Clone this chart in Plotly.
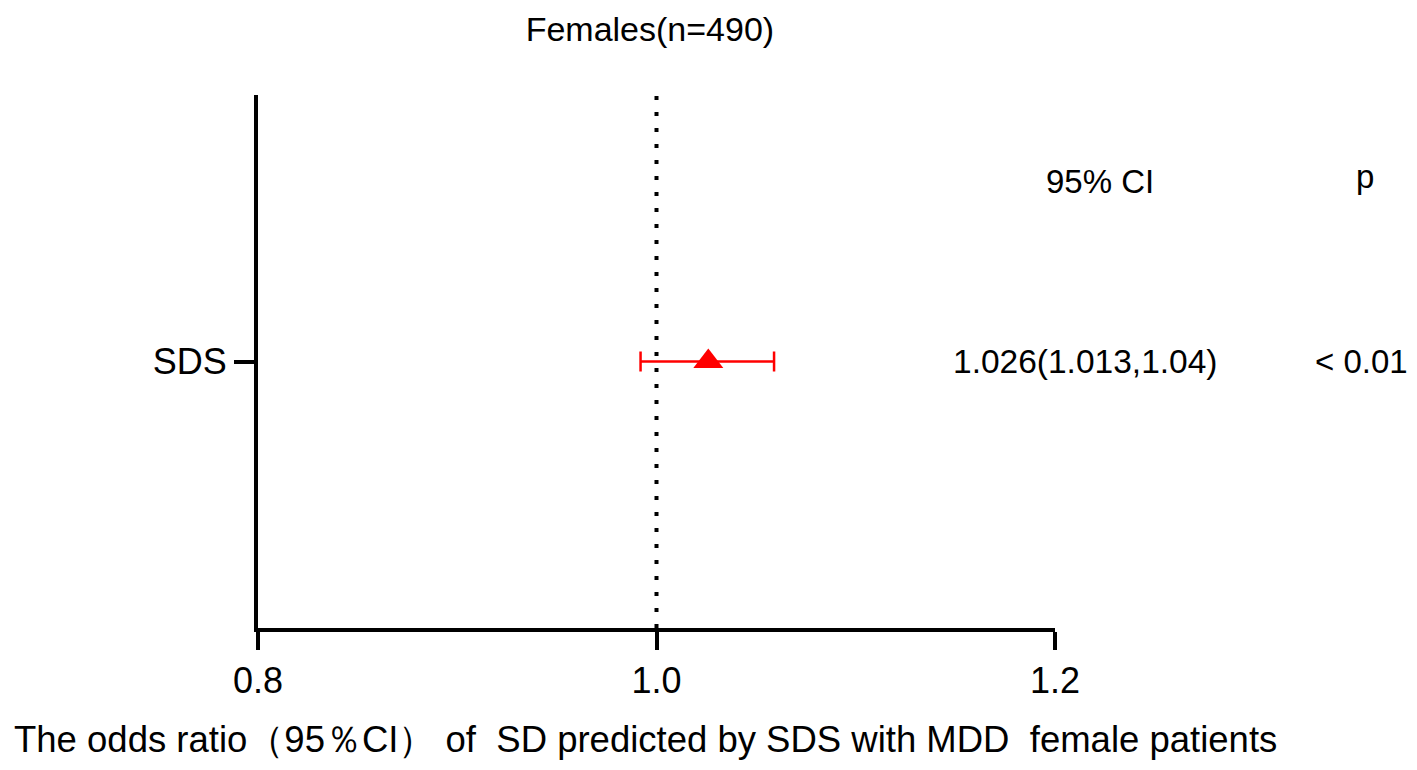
import plotly.graph_objects as go

# forest plot data
variables = ["SDS"]
odds_ratio = [1.026]
ci_low = [0.992]
ci_high = [1.059]
ci_text = ["1.026(1.013,1.04)"]
p_text = ["< 0.01"]
y_pos = [1]

x_ticks = [0.8, 1.0, 1.2]
x_ticktext = ["0.8", "1.0", "1.2"]

FONT = "Arial, Liberation Sans, sans-serif"

fig = go.Figure()

fig.add_trace(go.Scatter(
    x=odds_ratio,
    y=y_pos,
    mode="markers",
    marker=dict(symbol="triangle-up", size=26, color="red"),
    error_x=dict(
        type="data",
        symmetric=False,
        array=[h - o for h, o in zip(ci_high, odds_ratio)],
        arrayminus=[o - l for o, l in zip(odds_ratio, ci_low)],
        color="red",
        thickness=2.5,
        width=10,
    ),
    showlegend=False,
    cliponaxis=False,
))

# reference line at OR = 1
fig.add_shape(type="line", xref="x", yref="y", x0=1.0, x1=1.0, y0=0, y1=2,
              line=dict(color="black", width=4, dash="4px,12px"), layer="below")

# right-hand text columns
fig.add_annotation(text="95% CI", xref="paper", yref="paper", x=1.0565, y=0.838,
                   xanchor="center", yanchor="middle", showarrow=False,
                   font=dict(size=33, color="black", family=FONT))
fig.add_annotation(text="p", xref="paper", yref="paper", x=1.389, y=0.848,
                   xanchor="center", yanchor="middle", showarrow=False,
                   font=dict(size=33, color="black", family=FONT))
for yv, ct, pt in zip(y_pos, ci_text, p_text):
    fig.add_annotation(text=ct, xref="paper", yref="y", x=1.0376, y=yv,
                       xanchor="center", yanchor="middle", showarrow=False,
                       font=dict(size=33.5, color="black", family=FONT))
    fig.add_annotation(text=pt, xref="paper", yref="y", x=1.385, y=yv,
                       xanchor="center", yanchor="middle", showarrow=False,
                       font=dict(size=33, color="black", family=FONT))

# x-axis title as annotation so its position can be set exactly
fig.add_annotation(text="The odds ratio（95％CI） of  SD predicted by SDS with MDD  female patients",
                   xref="paper", yref="paper", x=0.4856, y=-0.21,
                   xanchor="center", yanchor="middle", showarrow=False,
                   font=dict(size=36.5, color="black", family=FONT))

fig.update_layout(
    width=1417,
    height=770,
    plot_bgcolor="white",
    paper_bgcolor="white",
    margin=dict(l=250, r=370, t=87, b=150),
    font=dict(family=FONT, color="black", size=30),
    title=dict(text="Females(n=490)", x=0.453, xanchor="center",
               y=1 - 21 / 770, yanchor="middle",
               font=dict(size=34, color="black", family=FONT)),
)

fig.update_xaxes(
    range=[0.8, 1.2],
    tickvals=x_ticks,
    ticktext=x_ticktext,
    showgrid=False,
    zeroline=False,
    showline=True,
    linecolor="black",
    linewidth=4,
    ticks="outside",
    ticklen=18,
    tickwidth=4,
    tickcolor="black",
    tickfont=dict(size=36, color="black", family=FONT),
)

fig.update_yaxes(
    range=[0, 2],
    tickvals=y_pos,
    ticktext=variables,
    showgrid=False,
    zeroline=False,
    showline=True,
    linecolor="black",
    linewidth=4,
    ticks="outside",
    ticklen=20,
    tickwidth=4,
    tickcolor="black",
    tickfont=dict(size=36, color="black", family=FONT),
)

fig.write_html("out.html")
